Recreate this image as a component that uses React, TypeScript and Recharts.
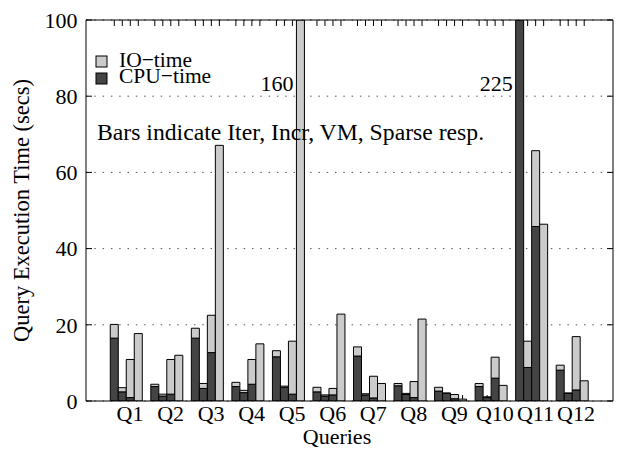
import React from 'react';
import { BarChart, Bar, XAxis, YAxis, CartesianGrid, LabelList } from 'recharts';

// ---------- data ----------
const queries = ['Q1', 'Q2', 'Q3', 'Q4', 'Q5', 'Q6', 'Q7', 'Q8', 'Q9', 'Q10', 'Q11', 'Q12'];
const methods = ['Iter', 'Incr', 'VM', 'Sparse'];

const iterCpu = [16.5, 3.8, 16.5, 3.8, 11.6, 2.4, 11.8, 4.0, 2.6, 3.8, 225, 8.1];
const iterIo = [3.6, 0.6, 2.6, 1.1, 1.6, 1.2, 2.4, 0.6, 1.0, 0.8, 0, 1.3];

const incrCpu = [2.4, 1.3, 3.3, 2.2, 3.6, 1.3, 1.6, 1.7, 2.0, 0.9, 8.8, 2.0];
const incrIo = [1.1, 0.5, 1.3, 0.6, 0.3, 0.3, 0.3, 0.3, 0.1, 0.2, 6.9, 0.1];

const vmCpu = [0.9, 1.8, 12.7, 4.4, 1.8, 1.6, 0.8, 0.9, 0.6, 6.0, 45.8, 2.9];
const vmIo = [10.0, 9.1, 9.8, 6.5, 13.9, 1.7, 5.7, 4.2, 1.1, 5.5, 19.9, 14.0];

const sparseCpu = [0, 0, 0, 0, 0, 0, 0, 0, 0, 0, 0, 0];
const sparseIo = [17.7, 12.0, 67.1, 15.0, 160, 22.8, 4.6, 21.5, 0.5, 4.1, 46.4, 5.3];

const yTicks = [0, 20, 40, 60, 80, 100];
const Y_MAX = 100;

const cpuByMethod: Record<string, number[]> = { Iter: iterCpu, Incr: incrCpu, VM: vmCpu, Sparse: sparseCpu };
const ioByMethod: Record<string, number[]> = { Iter: iterIo, Incr: incrIo, VM: vmIo, Sparse: sparseIo };

const data = queries.map((q, i) => {
  const row: Record<string, any> = { q };
  methods.forEach((m) => {
    const c = cpuByMethod[m][i];
    const o = ioByMethod[m][i];
    const t = c + o;
    row[`${m}_cpu`] = c;
    row[`${m}_io`] = o;
    // overflow label: attached to the topmost non-empty segment
    row[`${m}_cpuLabel`] = t > Y_MAX && o === 0 ? Math.round(t) : null;
    row[`${m}_ioLabel`] = t > Y_MAX && o > 0 ? Math.round(t) : null;
  });
  return row;
});

// ---------- layout ----------
const W = 618;
const H = 455;
const FONT = '"Liberation Serif", "Times New Roman", serif';
const FS = 22;
const margin = { top: 19, right: 4, bottom: 24, left: 0 };
const Y_AXIS_W = 86;
const X_AXIS_H = 30;
const EDGE_AXIS = 1;
const plotTop = margin.top + EDGE_AXIS;
const plotW = W - margin.left - margin.right - Y_AXIS_W - EDGE_AXIS;
const plotBottom = H - margin.bottom - X_AXIS_H;
const unit = plotW / (queries.length + 1);
const catGap = 4;
const TICK_LEN = 6;

const LIGHT = '#cbcbcb';
const DARK = '#444444';

const QTick = (props: any) => {
  const { x, y, payload } = props;
  return (
    <text x={x + 3.5} y={y} dy="0.71em" textAnchor="middle" fill="#000" fontSize={FS} fontFamily={FONT}>
      {payload.value}
    </text>
  );
};

const EmptyTick = () => <g />;

// per-bar x tics (top and bottom, inward), drawn behind the bars
const BarTics = (props: any) => {
  const { x, y, width, height } = props;
  if ([x, y, width, height].some((v) => typeof v !== 'number' || isNaN(v))) return <g />;
  const cx = x + width / 2;
  return (
    <g stroke="#000" strokeWidth={1}>
      <line x1={cx} x2={cx} y1={y} y2={y + TICK_LEN} />
      <line x1={cx} x2={cx} y1={y + height} y2={y + height - TICK_LEN} />
    </g>
  );
};

const OverflowLabel = (props: any) => {
  const { x, value } = props;
  if (value === null || value === undefined || value === '') return null;
  return (
    <text x={x - 3} y={plotTop + 71} textAnchor="end" fill="#000" fontSize={FS} fontFamily={FONT}>
      {value}
    </text>
  );
};

const Overlay = () => (
  <svg
    width={W}
    height={H}
    style={{ position: 'absolute', left: 0, top: 0, pointerEvents: 'none' }}
    fontFamily={FONT}
    fill="#000"
  >
    <text
      x={29}
      y={(plotTop + plotBottom) / 2}
      textAnchor="middle"
      fontSize={22.5}
      transform={`rotate(-90, 29, ${(plotTop + plotBottom) / 2})`}
    >
      Query Execution Time (secs)
    </text>
    <text x={337} y={444} textAnchor="middle" fontSize={FS}>Queries</text>
    <rect x={96} y={56} width={11} height={11} fill={LIGHT} stroke="#000" strokeWidth={1} />
    <rect x={96} y={73} width={11} height={11} fill={DARK} stroke="#000" strokeWidth={1} />
    <text x={119} y={66.5} fontSize={21.5}>IO−time</text>
    <text x={119} y={83} fontSize={21.5}>CPU−time</text>
    <text x={97} y={140} fontSize={23.7}>Bars indicate Iter, Incr, VM, Sparse resp.</text>
  </svg>
);

export default function App() {
  return (
    <div style={{ position: 'absolute', left: 0, top: 0, width: W, height: H, background: '#fff' }}>
      <BarChart width={W} height={H} data={data} margin={margin} barGap={0} barCategoryGap={catGap}>
        <CartesianGrid vertical={false} stroke="#555" strokeDasharray="1.5 6.8" yAxisId={0} xAxisId="cat" />
        <XAxis
          xAxisId="top"
          dataKey="q"
          orientation="top"
          height={EDGE_AXIS}
          padding={{ left: unit / 2, right: unit / 2 }}
          tick={<EmptyTick />}
          tickLine={false}
          interval={0}
          axisLine={{ stroke: '#000' }}
        />
        <XAxis
          xAxisId="cat"
          dataKey="q"
          height={X_AXIS_H}
          padding={{ left: unit / 2, right: unit / 2 }}
          tick={<QTick />}
          tickLine={false}
          tickSize={0}
          tickMargin={4}
          interval={0}
          axisLine={{ stroke: '#000' }}
        />
        <YAxis
          yAxisId={0}
          width={Y_AXIS_W}
          domain={[0, Y_MAX]}
          allowDataOverflow
          ticks={yTicks}
          interval={0}
          tickSize={-TICK_LEN}
          tickMargin={14.5}
          tick={{ fill: '#000', fontSize: FS, fontFamily: FONT }}
          tickLine={{ stroke: '#000' }}
          axisLine={{ stroke: '#000' }}
        />
        <YAxis
          yAxisId="r"
          orientation="right"
          width={EDGE_AXIS}
          domain={[0, Y_MAX]}
          allowDataOverflow
          ticks={yTicks}
          interval={0}
          tick={<EmptyTick />}
          tickSize={-TICK_LEN}
          tickLine={{ stroke: '#000' }}
          axisLine={{ stroke: '#000' }}
        />
        {methods.flatMap((m) => [
          <Bar
            key={`${m}_cpu`}
            xAxisId="cat"
            yAxisId={0}
            dataKey={`${m}_cpu`}
            stackId={m}
            fill={DARK}
            stroke="#000"
            strokeWidth={1}
            isAnimationActive={false}
          >
            <LabelList dataKey={`${m}_cpuLabel`} content={<OverflowLabel />} />
          </Bar>,
          <Bar
            key={`${m}_io`}
            xAxisId="cat"
            yAxisId={0}
            dataKey={`${m}_io`}
            stackId={m}
            fill={LIGHT}
            stroke="#000"
            strokeWidth={1}
            background={<BarTics />}
            isAnimationActive={false}
          >
            <LabelList dataKey={`${m}_ioLabel`} content={<OverflowLabel />} />
          </Bar>,
        ])}
      </BarChart>
      <Overlay />
    </div>
  );
}
